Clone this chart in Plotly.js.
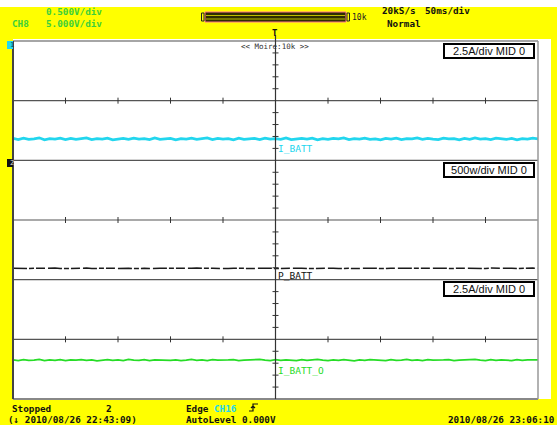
<!DOCTYPE html>
<html><head><meta charset="utf-8">
<script src="https://cdn.plot.ly/plotly-3.0.1.min.js"></script>
<style>html,body{margin:0;padding:0;background:#ffff00;}#g{width:557px;height:425px;}</style>
</head><body><div id="g"></div>
<script>
const sampleStepMs = 5;            // time base sampling of the drawn trace
const timeStartMs = -250;          // 50 ms/div x 10 div, trigger at centre
const iBatt = [-1.58,-1.63,-1.57,-1.62,-1.60,-1.56,-1.64,-1.59,-1.61,-1.57,
-1.63,-1.58,-1.62,-1.60,-1.56,-1.63,-1.59,-1.61,-1.57,-1.64,
-1.60,-1.58,-1.62,-1.57,-1.61,-1.59,-1.63,-1.56,-1.62,-1.60,
-1.58,-1.64,-1.59,-1.61,-1.57,-1.62,-1.60,-1.56,-1.63,-1.58,
-1.61,-1.59,-1.64,-1.57,-1.62,-1.60,-1.58,-1.63,-1.57,-1.61,
-1.59,-1.62,-1.56,-1.63,-1.60,-1.58,-1.61,-1.57,-1.64,-1.59,
-1.62,-1.58,-1.60,-1.56,-1.63,-1.59,-1.61,-1.57,-1.62,-1.60,
-1.64,-1.58,-1.61,-1.57,-1.63,-1.59,-1.60,-1.56,-1.62,-1.58,
-1.61,-1.63,-1.57,-1.60,-1.59,-1.64,-1.58,-1.62,-1.56,-1.61,
-1.59,-1.63,-1.57,-1.60,-1.62,-1.58,-1.64,-1.59,-1.61,-1.57,-1.60];
const pBatt = [-404,-406,-403,-407,-405,-404,-406,-405,-403,-407,
-405,-404,-406,-405,-403,-406,-404,-407,-405,-404,
-406,-403,-405,-407,-404,-405,-406,-403,-405,-404,
-407,-405,-404,-406,-405,-403,-406,-404,-405,-407,
-404,-406,-405,-403,-405,-406,-404,-407,-405,-404,
-406,-405,-403,-405,-407,-404,-406,-405,-404,-403,
-406,-405,-407,-404,-405,-406,-403,-405,-404,-406,
-405,-407,-404,-405,-403,-406,-405,-404,-407,-405,
-404,-406,-403,-405,-406,-404,-405,-407,-404,-405,
-406,-403,-405,-404,-407,-405,-406,-404,-405,-403,-405];
const iBattO = [-0.86,-0.89,-0.85,-0.88,-0.87,-0.84,-0.89,-0.86,-0.88,-0.85,
-0.89,-0.86,-0.87,-0.85,-0.88,-0.86,-0.90,-0.87,-0.85,-0.88,
-0.86,-0.89,-0.84,-0.87,-0.88,-0.85,-0.89,-0.86,-0.87,-0.85,
-0.88,-0.86,-0.89,-0.87,-0.84,-0.88,-0.86,-0.89,-0.85,-0.87,
-0.88,-0.86,-0.85,-0.89,-0.87,-0.86,-0.88,-0.84,-0.87,-0.89,
-0.85,-0.88,-0.86,-0.87,-0.89,-0.85,-0.88,-0.86,-0.84,-0.87,
-0.89,-0.86,-0.88,-0.85,-0.87,-0.90,-0.86,-0.88,-0.85,-0.87,
-0.86,-0.89,-0.85,-0.88,-0.87,-0.84,-0.88,-0.86,-0.89,-0.85,
-0.87,-0.88,-0.86,-0.85,-0.89,-0.87,-0.86,-0.88,-0.84,-0.87,
-0.89,-0.85,-0.88,-0.86,-0.87,-0.89,-0.85,-0.88,-0.86,-0.87,-0.86];
const traceNames = ["I_BATT", "P_BATT", "I_BATT_O"];
const scaleLabels = ["2.5A/div MID 0", "500w/div MID 0", "2.5A/div MID 0"];
const paneRanges = [[-2.5, 2.5], [-500, 500], [-2.5, 2.5]];
const msPerDiv = 50, xDivs = 10;

// ---- geometry helpers ----
const L=13, R=538, T=41, B=399;
const px = x => (x-L)/(R-L);
const py = y => (B-y)/(B-T);
const time = iBatt.map((_, i) => timeStartMs + i*sampleStepMs);

const MONO = "DejaVu Sans Mono";
const GREEN = "#3ccf3c", CYAN = "#22d6ee";

const traces = [
  {x: time, y: iBatt, xaxis:'x', yaxis:'y', mode:'lines', line:{color:CYAN, width:2.6}, hoverinfo:'skip'},
  {x: time, y: pBatt, xaxis:'x', yaxis:'y2', mode:'lines', line:{color:'#1a1a1a', width:1.5, dash:'14px,2px,5px,2px,9px,3px'}, hoverinfo:'skip'},
  {x: time, y: iBattO, xaxis:'x', yaxis:'y3', mode:'lines', line:{color:'#27dc27', width:1.8}, hoverinfo:'skip'}
];

const shapes = [];
// white screen areas
shapes.push({type:'rect', xref:'paper', yref:'paper', x0:px(13), x1:px(551), y0:py(399), y1:py(39), fillcolor:'#ffffff', line:{width:0}, layer:'below'});
shapes.push({type:'rect', xref:'paper', yref:'paper', x0:px(0), x1:px(557), y0:py(0), y1:py(7), fillcolor:'#ffffff', line:{width:0}, layer:'below'});
// horizontal division lines
for (let k=1; k<6; k++) {
  shapes.push({type:'line', xref:'paper', yref:'paper', x0:0, x1:1, y0:k/6, y1:k/6, line:{color:'#555', width:1.2}});
}
// border
shapes.push({type:'line', xref:'paper', yref:'paper', x0:0, x1:1, y0:1, y1:1, line:{color:'#888', width:1.5}});
shapes.push({type:'line', xref:'paper', yref:'paper', x0:0, x1:1, y0:0, y1:0, line:{color:'#888', width:2}});
shapes.push({type:'line', xref:'paper', yref:'paper', x0:1, x1:1, y0:0, y1:1, line:{color:'#999', width:1.5}});
shapes.push({type:'line', xref:'paper', yref:'paper', x0:0, x1:0, y0:0, y1:1, line:{color:'#444', width:2}});
// vertical centre line
shapes.push({type:'line', xref:'x', yref:'paper', x0:0, x1:0, y0:0, y1:py(35), line:{color:'#333', width:1.2}});
// minor ticks on centre line
for (let k=1; k<30; k++) {
  if (k%5===0) continue;
  shapes.push({type:'line', xref:'x', yref:'paper', xsizemode:'pixel', xanchor:0, x0:-3, x1:3, y0:k/30, y1:k/30, line:{color:'#333', width:1}});
}
// major ticks on each pane's mid line
['y','y2','y3'].forEach(ax => {
  for (let d=1; d<xDivs; d++) {
    const t = -msPerDiv*xDivs/2 + d*msPerDiv;
    if (t===0) continue;
    shapes.push({type:'line', xref:'x', yref:ax, ysizemode:'pixel', yanchor:0, x0:t, x1:t, y0:-3, y1:3, line:{color:'#333', width:1}});
  }
});
// timebase bar
shapes.push({type:'rect', xref:'paper', yref:'paper', x0:px(205), x1:px(346), y0:py(22), y1:py(12), fillcolor:'#2e2e00', line:{color:'#ff7090', width:1}});
shapes.push({type:'line', xref:'paper', yref:'paper', x0:px(206), x1:px(345), y0:py(15.5), y1:py(15.5), line:{color:'#bdbd00', width:1}});
shapes.push({type:'line', xref:'paper', yref:'paper', x0:px(206), x1:px(345), y0:py(19), y1:py(19), line:{color:'#bdbd00', width:1}});
shapes.push({type:'rect', xref:'paper', yref:'paper', x0:px(201.5), x1:px(204), y0:py(21), y1:py(13), fillcolor:'#ffff00', line:{color:'#222', width:1}});
shapes.push({type:'rect', xref:'paper', yref:'paper', x0:px(347), x1:px(349.5), y0:py(21), y1:py(13), fillcolor:'#ffff00', line:{color:'#222', width:1}});
// left channel markers
shapes.push({type:'rect', xref:'paper', yref:'paper', x0:px(7), x1:px(13), y0:py(49), y1:py(41), fillcolor:CYAN, line:{width:0}});
shapes.push({type:'rect', xref:'paper', yref:'paper', x0:px(7), x1:px(13), y0:py(167), y1:py(159), fillcolor:'#111', line:{width:0}});
// trigger edge symbol
const edgePath = `M ${px(249)} ${py(411)} L ${px(253)} ${py(411)} L ${px(253)} ${py(404)} L ${px(258)} ${py(404)} M ${px(251)} ${py(408)} L ${px(253)} ${py(406)} L ${px(255)} ${py(408)}`;
shapes.push({type:'path', xref:'paper', yref:'paper', path:edgePath, line:{color:'#111', width:1.2}});

const ann = [];
function txt(x, y, text, color, size, family, anchor, bold) {
  ann.push({xref:'paper', yref:'paper', x:px(x), y:py(y), text:bold===false?text:'<b>'+text+'</b>', showarrow:false,
    xanchor:anchor||'left', yanchor:'middle', font:{family:family||MONO, size:size||9.3, color:color||'#111'}});
}
// header
txt(44, 12, "0.500V/div", GREEN);
txt(10, 23, "CH8", GREEN);
txt(44, 23, "5.000V/div", GREEN);
txt(350, 17, "10k", '#222', 8, MONO, 'left', false);
txt(380, 11, "20kS/s", '#111');
txt(423, 11, "50ms/div", '#111');
txt(385, 23, "Normal", '#111');
txt(275, 46, "<< Moire:10k >>", '#333', 7.5, MONO, 'center', false);
txt(275, 33, "T", '#111', 9, MONO, 'center');
txt(8, 45, "1", '#0a4a55', 7, MONO, 'left', false);
txt(8, 163, "2", '#ddd', 7, MONO, 'left', false);
// footer
txt(10, 408, "Stopped");
txt(104, 408, "2");
txt(184, 408, "Edge");
txt(212, 408, "CH16", CYAN);
txt(6, 419, "(\u2193 2010/08/26 22:43:09)");
txt(184, 419, "AutoLevel 0.000V");
txt(446, 419, "2010/08/26 23:06:10");
// trace labels
const labelY = [148, 275, 370];
const labelC = [CYAN, '#111', '#27dc27'];
traceNames.forEach((n, i) => txt(276, labelY[i], n, labelC[i], 9.5, MONO, 'left', false));
// scale boxes
const boxY = [51, 170, 289];
scaleLabels.forEach((s, i) => ann.push({xref:'paper', yref:'paper', x:px(489), y:py(boxY[i]), text:s, showarrow:false,
  xanchor:'center', yanchor:'middle', font:{family:'Liberation Sans', size:11, color:'#111'},
  bgcolor:'#ffffff', bordercolor:'#000', borderwidth:2, borderpad:0, width:88, height:12}));

const hidden = {showgrid:false, zeroline:false, showline:false, showticklabels:false, ticks:'', fixedrange:true};
const layout = {
  width:557, height:425, autosize:false,
  margin:{l:L, r:557-R, t:T, b:425-B, pad:0},
  paper_bgcolor:'#ffff00', plot_bgcolor:'#ffffff', showlegend:false,
  xaxis: Object.assign({range:[-msPerDiv*xDivs/2, msPerDiv*xDivs/2]}, hidden),
  yaxis: Object.assign({domain:[2/3,1], range:paneRanges[0]}, hidden),
  yaxis2: Object.assign({domain:[1/3,2/3], range:paneRanges[1]}, hidden),
  yaxis3: Object.assign({domain:[0,1/3], range:paneRanges[2]}, hidden),
  shapes: shapes, annotations: ann
};
Plotly.newPlot('g', traces, layout, {staticPlot:true, displayModeBar:false});
</script></body></html>
